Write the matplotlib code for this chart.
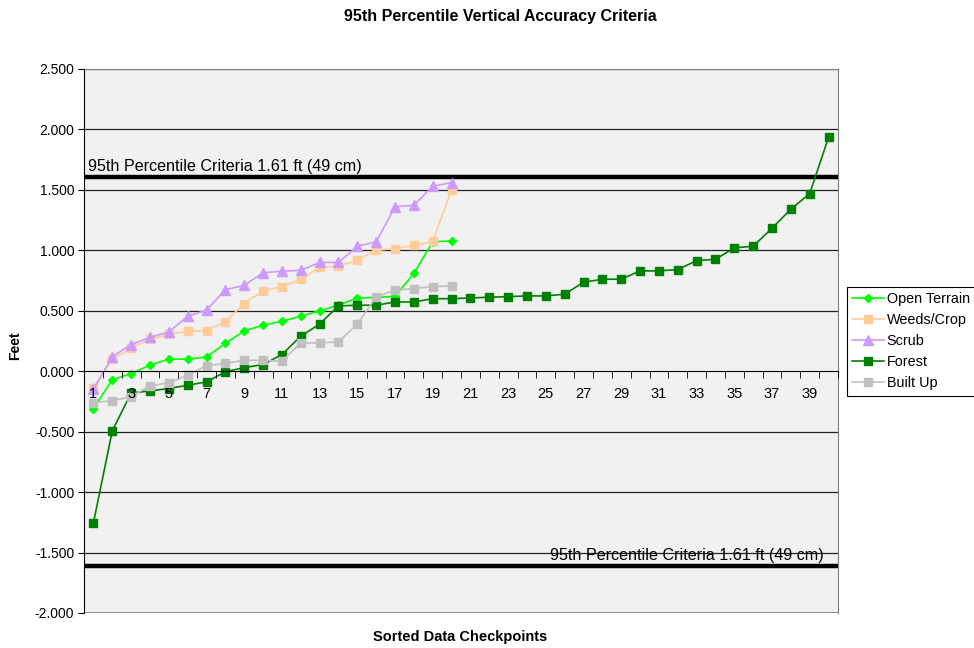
import numpy as np
import matplotlib
matplotlib.use('Agg')
from matplotlib import pyplot as plt
from matplotlib.ticker import FixedLocator, FuncFormatter

plt.rcParams['font.family'] = ['Liberation Sans', 'DejaVu Sans']

# values (feet)
open_terrain = [-0.31, -0.07, -0.02, 0.05, 0.10, 0.10, 0.118, 0.23, 0.333, 0.38,
                0.413, 0.455, 0.50, 0.546, 0.606, 0.61, 0.62, 0.81, 1.07, 1.078]
weeds_crop = [-0.135, 0.097, 0.19, 0.265, 0.306, 0.33, 0.336, 0.41, 0.56, 0.665,
              0.70, 0.76, 0.858, 0.87, 0.918, 1.0, 1.015, 1.04, 1.075, 1.50]
scrub = [-0.15, 0.12, 0.22, 0.28, 0.325, 0.455, 0.505, 0.675, 0.71, 0.815,
         0.827, 0.835, 0.90, 0.90, 1.034, 1.07, 1.36, 1.373, 1.53, 1.56]
forest = [-1.255, -0.494, -0.18, -0.163, -0.143, -0.116, -0.088, -0.005, 0.03, 0.055,
          0.138, 0.29, 0.39, 0.54, 0.546, 0.546, 0.573, 0.573, 0.60, 0.60,
          0.606, 0.612, 0.617, 0.623, 0.623, 0.637, 0.736, 0.761, 0.761, 0.83,
          0.83, 0.841, 0.915, 0.926, 1.02, 1.034, 1.183, 1.34, 1.47, 1.935]
built_up = [-0.26, -0.245, -0.21, -0.12, -0.097, -0.033, 0.045, 0.065, 0.09, 0.09,
            0.083, 0.234, 0.234, 0.243, 0.39, 0.615, 0.67, 0.684, 0.70, 0.706]

criteria = 1.61
criteria_label = '95th Percentile Criteria 1.61 ft (49 cm)'

series = [
    ('Open Terrain', open_terrain, '#00ff00', 'D', 4.5),
    ('Weeds/Crop', weeds_crop, '#ffcc99', 's', 5.8),
    ('Scrub', scrub, '#cc99ff', '^', 6.5),
    ('Forest', forest, '#008000', 's', 5.8),
    ('Built Up', built_up, '#c0c0c0', 's', 5.8),
]

fig = plt.figure(figsize=(9.74, 6.48), dpi=100)
ax = fig.add_axes([84/974, 1-613/648, (838-84)/974, (613-69)/648])
ax.set_facecolor('#f1f1f1')
ax.set_axisbelow(False)

for name, vals, col, mk, ms in series:
    x = np.arange(1, len(vals)+1)
    ax.plot(x, vals, color=col, marker=mk, markersize=ms, lw=1.2,
            markeredgecolor=col, label=name, zorder=2.3)

ax.set_xlim(0.5, 40.5)
ax.set_ylim(-2.0, 2.5)

# gridlines
for g in np.arange(-2.0, 2.51, 0.5):
    if abs(g) > 1e-9:
        ax.axhline(g, color='#222222', lw=0.9, zorder=1)

# criteria lines
ax.axhline(criteria, color='black', lw=3.2, zorder=2)
ax.axhline(-criteria, color='black', lw=3.2, zorder=2)
ax.text(0.72, criteria + 0.025, criteria_label, fontsize=11.6, ha='left', va='bottom', zorder=4)
ax.text(39.75, -criteria + 0.025, criteria_label, fontsize=11.6, ha='right', va='bottom', zorder=4)

# axis through zero
for s in ['top', 'right']:
    ax.spines[s].set_color('#808080')
ax.spines['left'].set_color('black')
ax.spines['bottom'].set_position(('data', 0))
ax.spines['bottom'].set_color('black')
ax.axhline(-2.0, color='#808080', lw=1.2, zorder=1)

ax.xaxis.set_major_locator(FixedLocator(np.arange(1, 41, 2)))
ax.xaxis.set_minor_locator(FixedLocator(np.arange(0.5, 41, 1)))
ax.tick_params(axis='x', which='major', length=0, labelsize=10.5, pad=11)
ax.tick_params(axis='x', which='minor', length=5, direction='out', color='black')

ax.set_yticks(np.arange(-2.0, 2.51, 0.5))
ax.yaxis.set_major_formatter(FuncFormatter(lambda v, p: '%.3f' % v))
ax.tick_params(axis='y', length=4, labelsize=10, pad=3)

fig.text(500/974, 1-17/648, '95th Percentile Vertical Accuracy Criteria',
         ha='center', va='center', fontsize=11.5, fontweight='bold')
fig.text(460/974, 1-637/648, 'Sorted Data Checkpoints',
         ha='center', va='center', fontsize=10.5, fontweight='bold')
fig.text(15/974, 1-346/648, 'Feet', ha='center', va='center',
         rotation=90, fontsize=10, fontweight='bold')

leg = fig.legend(loc='center left', bbox_to_anchor=(847/974, 1-341/648),
                 fontsize=10.4, frameon=True, fancybox=False, framealpha=1,
                 edgecolor='black', borderpad=0.35, labelspacing=0.5,
                 handlelength=2.2, handletextpad=0.2, borderaxespad=0)
leg.get_frame().set_linewidth(0.8)

fig.savefig('out.png', dpi=100)
